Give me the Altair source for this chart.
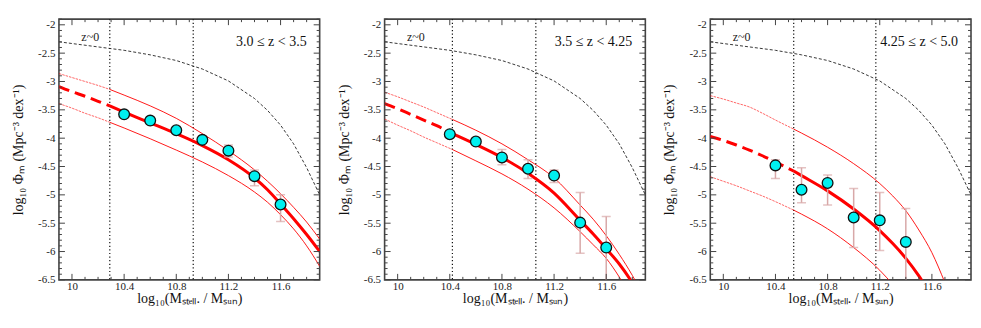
import altair as alt
import pandas as pd

# ---------------- data ----------------
X_DOMAIN = [9.9, 11.9]
Y_DOMAIN = [-6.5, -1.9]
X_LABELS = [10.0, 10.4, 10.8, 11.2, 11.6]
X_MINOR = [10.1, 10.2, 10.3, 10.5, 10.6, 10.7, 10.9, 11.0, 11.1, 11.3, 11.4, 11.5, 11.7, 11.8]
Y_LABELS = [-6.5, -6.0, -5.5, -5.0, -4.5, -4.0, -3.5, -3.0, -2.5, -2.0]
Y_MINOR = [-6.4, -6.3, -6.2, -6.1, -5.9, -5.8, -5.7, -5.6, -5.4, -5.3, -5.2, -5.1,
           -4.9, -4.8, -4.7, -4.6, -4.4, -4.3, -4.2, -4.1, -3.9, -3.8, -3.7, -3.6,
           -3.4, -3.3, -3.2, -3.1, -2.9, -2.8, -2.7, -2.6, -2.4, -2.3, -2.2, -2.1, -1.9]

PANEL_LABELS = ["3.0 \u2264  z < 3.5", "3.5 \u2264  z < 4.25", "4.25 \u2264  z < 5.0"]
LIMITS = [[10.29, 10.93], [10.42, 11.06], [10.54, 11.17]]

# local (z~0) mass function, same in every panel
z0_x = [9.9, 10.0, 10.2, 10.4, 10.6, 10.8, 11.0, 11.2, 11.4, 11.5, 11.6, 11.7, 11.8, 11.9]
z0_y = [-2.30, -2.33, -2.39, -2.45, -2.53, -2.63, -2.78, -2.99, -3.30, -3.51, -3.77, -4.10, -4.52, -5.0]

# panel 1 : 3.0 <= z < 3.5
c1_x = [9.9, 10.0, 10.1, 10.2, 10.29, 10.4, 10.6, 10.8, 11.0, 11.2, 11.4, 11.5, 11.6, 11.7, 11.8, 11.9]
fit1 = [-3.09, -3.18, -3.26, -3.35, -3.43, -3.54, -3.73, -3.92, -4.13, -4.38, -4.70, -4.91, -5.16, -5.42, -5.70, -6.0]
up1 = [-2.86, -2.93, -3.00, -3.07, -3.14, -3.24, -3.43, -3.65, -3.92, -4.22, -4.56, -4.76, -4.98, -5.22, -5.48, -5.78]
lo1 = [-3.39, -3.47, -3.56, -3.64, -3.72, -3.82, -4.01, -4.21, -4.42, -4.66, -4.95, -5.13, -5.35, -5.60, -5.90, -6.26]
p1_x = [10.4, 10.6, 10.8, 11.0, 11.2, 11.4, 11.6]
p1_y = [-3.58, -3.69, -3.86, -4.03, -4.22, -4.67, -5.17]
p1_lo = [-3.62, -3.73, -3.90, -4.08, -4.33, -4.84, -5.47]
p1_hi = [-3.54, -3.65, -3.82, -3.98, -4.12, -4.56, -5.00]

# panel 2 : 3.5 <= z < 4.25
c2_x = [9.9, 10.0, 10.1, 10.2, 10.3, 10.42, 10.6, 10.8, 11.0, 11.2, 11.4, 11.5, 11.6, 11.7, 11.8, 11.9]
fit2 = [-3.39, -3.48, -3.58, -3.68, -3.78, -3.92, -4.11, -4.34, -4.62, -4.97, -5.45, -5.69, -5.95, -6.22, -6.55, -6.95]
up2 = [-3.19, -3.27, -3.36, -3.45, -3.55, -3.67, -3.86, -4.10, -4.38, -4.70, -5.18, -5.43, -5.72, -6.05, -6.42, -6.85]
lo2 = [-3.66, -3.77, -3.87, -3.98, -4.08, -4.20, -4.40, -4.63, -4.90, -5.23, -5.65, -5.88, -6.12, -6.45, -6.85, -7.3]
p2_x = [10.4, 10.6, 10.8, 11.0, 11.2, 11.4, 11.6]
p2_y = [-3.93, -4.06, -4.34, -4.54, -4.66, -5.49, -5.93]
p2_lo = [-3.98, -4.11, -4.47, -4.71, -4.78, -6.03, -6.80]
p2_hi = [-3.88, -4.01, -4.20, -4.38, -4.56, -4.96, -5.38]

# panel 3 : 4.25 <= z < 5.0
c3_x = [9.9, 10.0, 10.1, 10.2, 10.3, 10.4, 10.54, 10.6, 10.8, 11.0, 11.2, 11.3, 11.4, 11.5, 11.6, 11.7]
fit3 = [-3.97, -4.04, -4.12, -4.21, -4.31, -4.42, -4.58, -4.66, -4.93, -5.25, -5.63, -5.86, -6.12, -6.43, -6.80, -7.2]
up3 = [-3.25, -3.31, -3.38, -3.45, -3.56, -3.68, -3.84, -3.91, -4.16, -4.45, -4.80, -5.02, -5.28, -5.62, -6.02, -6.55]
lo3 = [-4.68, -4.76, -4.84, -4.93, -5.02, -5.12, -5.27, -5.34, -5.60, -5.93, -6.33, -6.58, -6.85, -7.1, -7.4, -7.7]
p3_x = [10.4, 10.6, 10.8, 11.0, 11.2, 11.4]
p3_y = [-4.48, -4.91, -4.79, -5.40, -5.45, -5.83]
p3_lo = [-4.71, -5.14, -5.18, -5.93, -5.98, -6.80]
p3_hi = [-4.38, -4.52, -4.65, -4.89, -4.96, -5.24]

Z0_LABEL = "z~0"
Z0_LABEL_POS = [10.14, -2.21]
PANEL_LABEL_POS = [11.8, -2.31]

X_TITLE = "log\u2081\u2080(M\u209b\u209c\u2091\u2097\u2097. / M\u209b\u1d64\u2099)"
Y_TITLE = "log\u2081\u2080 \u03a6\u2098  (Mpc\u207b\u00b3 dex\u207b\u00b9)"

W = 261
H = 261
SERIF = "Liberation Serif"
RED = "#ff0000"
ERR = "#d8a8a8"
FRAME = "#444444"


def panel(cx, fit, up, lo, px, py, plo, phi, lims, label):
    xs = alt.Scale(domain=X_DOMAIN, nice=False, zero=False)
    ys = alt.Scale(domain=Y_DOMAIN, nice=False, zero=False)
    xaxis = alt.Axis(values=X_LABELS, labelExpr="'' + datum.value", title=X_TITLE,
                     ticks=False, tickSize=0, domain=False, grid=False,
                     labelPadding=1, titlePadding=0, labelFlush=False, labelOverlap=False)
    yaxis = alt.Axis(values=Y_LABELS, labelExpr="'' + datum.value", title=Y_TITLE,
                     ticks=False, tickSize=0, domain=False, grid=False,
                     labelPadding=4, titlePadding=12, labelFlush=False, labelOverlap=False)

    def X(f="x"):
        return alt.X(f, type="quantitative", scale=xs, axis=xaxis)

    def Y(f="y"):
        return alt.Y(f, type="quantitative", scale=ys, axis=yaxis)

    lim = lims[0]
    z0 = pd.DataFrame({"x": z0_x, "y": z0_y})
    curves = pd.concat([
        pd.DataFrame({"x": cx, "y": up, "c": "up"}),
        pd.DataFrame({"x": cx, "y": lo, "c": "lo"}),
    ])
    fitdf = pd.DataFrame({"x": cx, "y": fit})
    pts = pd.DataFrame({"x": px, "y": py, "lo": plo, "hi": phi})
    vlines = pd.DataFrame({"x": lims})

    layers = []
    layers.append(alt.Chart(z0).mark_line(color="#222", strokeWidth=0.9, strokeDash=[3, 2], clip=True)
                  .encode(x=X(), y=Y()))
    layers.append(alt.Chart(vlines).mark_rule(color="#111", strokeWidth=1.2, strokeDash=[1.2, 2.4])
                  .encode(x=X()))
    # thin uncertainty curves
    layers.append(alt.Chart(curves[curves.x <= lim]).mark_line(color=RED, strokeWidth=0.8, strokeDash=[2.5, 1],
                                                             opacity=0.75, interpolate="monotone", clip=True)
                  .encode(x=X(), y=Y(), detail="c:N"))
    layers.append(alt.Chart(curves[curves.x >= lim]).mark_line(color=RED, strokeWidth=0.9,
                                                             interpolate="monotone", clip=True)
                  .encode(x=X(), y=Y(), detail="c:N"))
    # best fit
    layers.append(alt.Chart(fitdf[fitdf.x <= lim]).mark_line(color=RED, strokeWidth=3, strokeDash=[11, 6],
                                                           interpolate="monotone", clip=True)
                  .encode(x=X(), y=Y()))
    layers.append(alt.Chart(fitdf[fitdf.x >= lim]).mark_line(color=RED, strokeWidth=3,
                                                           interpolate="monotone", clip=True)
                  .encode(x=X(), y=Y()))
    # error bars
    layers.append(alt.Chart(pts).mark_rule(color=ERR, strokeWidth=1.5, clip=True)
                  .encode(x=X(), y=Y("lo"), y2="hi"))
    layers.append(alt.Chart(pts).mark_tick(color=ERR, orient="horizontal", size=9, thickness=1.5, clip=True)
                  .encode(x=X(), y=Y("lo")))
    layers.append(alt.Chart(pts).mark_tick(color=ERR, orient="horizontal", size=9, thickness=1.5, clip=True)
                  .encode(x=X(), y=Y("hi")))
    # points
    layers.append(alt.Chart(pts).mark_circle(size=115, color="#00f0f0", opacity=1, stroke="#111", strokeWidth=1.3)
                  .encode(x=X(), y=Y()))
    # texts
    layers.append(alt.Chart(pd.DataFrame({"x": [Z0_LABEL_POS[0]], "y": [Z0_LABEL_POS[1]], "t": [Z0_LABEL]}))
                  .mark_text(font=SERIF, fontSize=12, color="#222", align="center", baseline="middle")
                  .encode(x=X(), y=Y(), text="t:N"))
    layers.append(alt.Chart(pd.DataFrame({"x": [PANEL_LABEL_POS[0]], "y": [PANEL_LABEL_POS[1]], "t": [label]}))
                  .mark_text(font=SERIF, fontSize=14, color="#111", align="right", baseline="middle")
                  .encode(x=X(), y=Y(), text="t:N"))
    # inward ticks on all four sides
    xmaj = pd.DataFrame({"x": X_LABELS})
    xmin = pd.DataFrame({"x": X_MINOR})
    ymaj = pd.DataFrame({"y": Y_LABELS})
    ymin = pd.DataFrame({"y": Y_MINOR})
    for df, ln in ((xmaj, 6), (xmin, 3)):
        layers.append(alt.Chart(df).mark_rule(color=FRAME, strokeWidth=1)
                      .encode(x=X(), y=alt.value(H), y2=alt.value(H - ln)))
        layers.append(alt.Chart(df).mark_rule(color=FRAME, strokeWidth=1)
                      .encode(x=X(), y=alt.value(0), y2=alt.value(ln)))
    for df, ln in ((ymaj, 6), (ymin, 3)):
        layers.append(alt.Chart(df).mark_rule(color=FRAME, strokeWidth=1)
                      .encode(y=Y(), x=alt.value(0), x2=alt.value(ln)))
        layers.append(alt.Chart(df).mark_rule(color=FRAME, strokeWidth=1)
                      .encode(y=Y(), x=alt.value(W), x2=alt.value(W - ln)))

    return alt.layer(*layers).properties(width=W, height=H)


p1 = panel(c1_x, fit1, up1, lo1, p1_x, p1_y, p1_lo, p1_hi, LIMITS[0], PANEL_LABELS[0])
p2 = panel(c2_x, fit2, up2, lo2, p2_x, p2_y, p2_lo, p2_hi, LIMITS[1], PANEL_LABELS[1])
p3 = panel(c3_x, fit3, up3, lo3, p3_x, p3_y, p3_lo, p3_hi, LIMITS[2], PANEL_LABELS[2])

chart = (
    alt.hconcat(p1, p2, p3, spacing=65, bounds="flush")
    .properties(padding={"left": 2, "top": 9, "right": 0, "bottom": 0}, background="white")
    .configure_view(stroke=FRAME, strokeWidth=1.6)
    .configure_axis(labelFont=SERIF, labelFontSize=11, labelColor="#222",
                    titleFont=SERIF, titleFontSize=14, titleFontWeight="normal", titleColor="#111")
)

chart.save("out.html", embed_options={"renderer": "svg", "actions": False})
